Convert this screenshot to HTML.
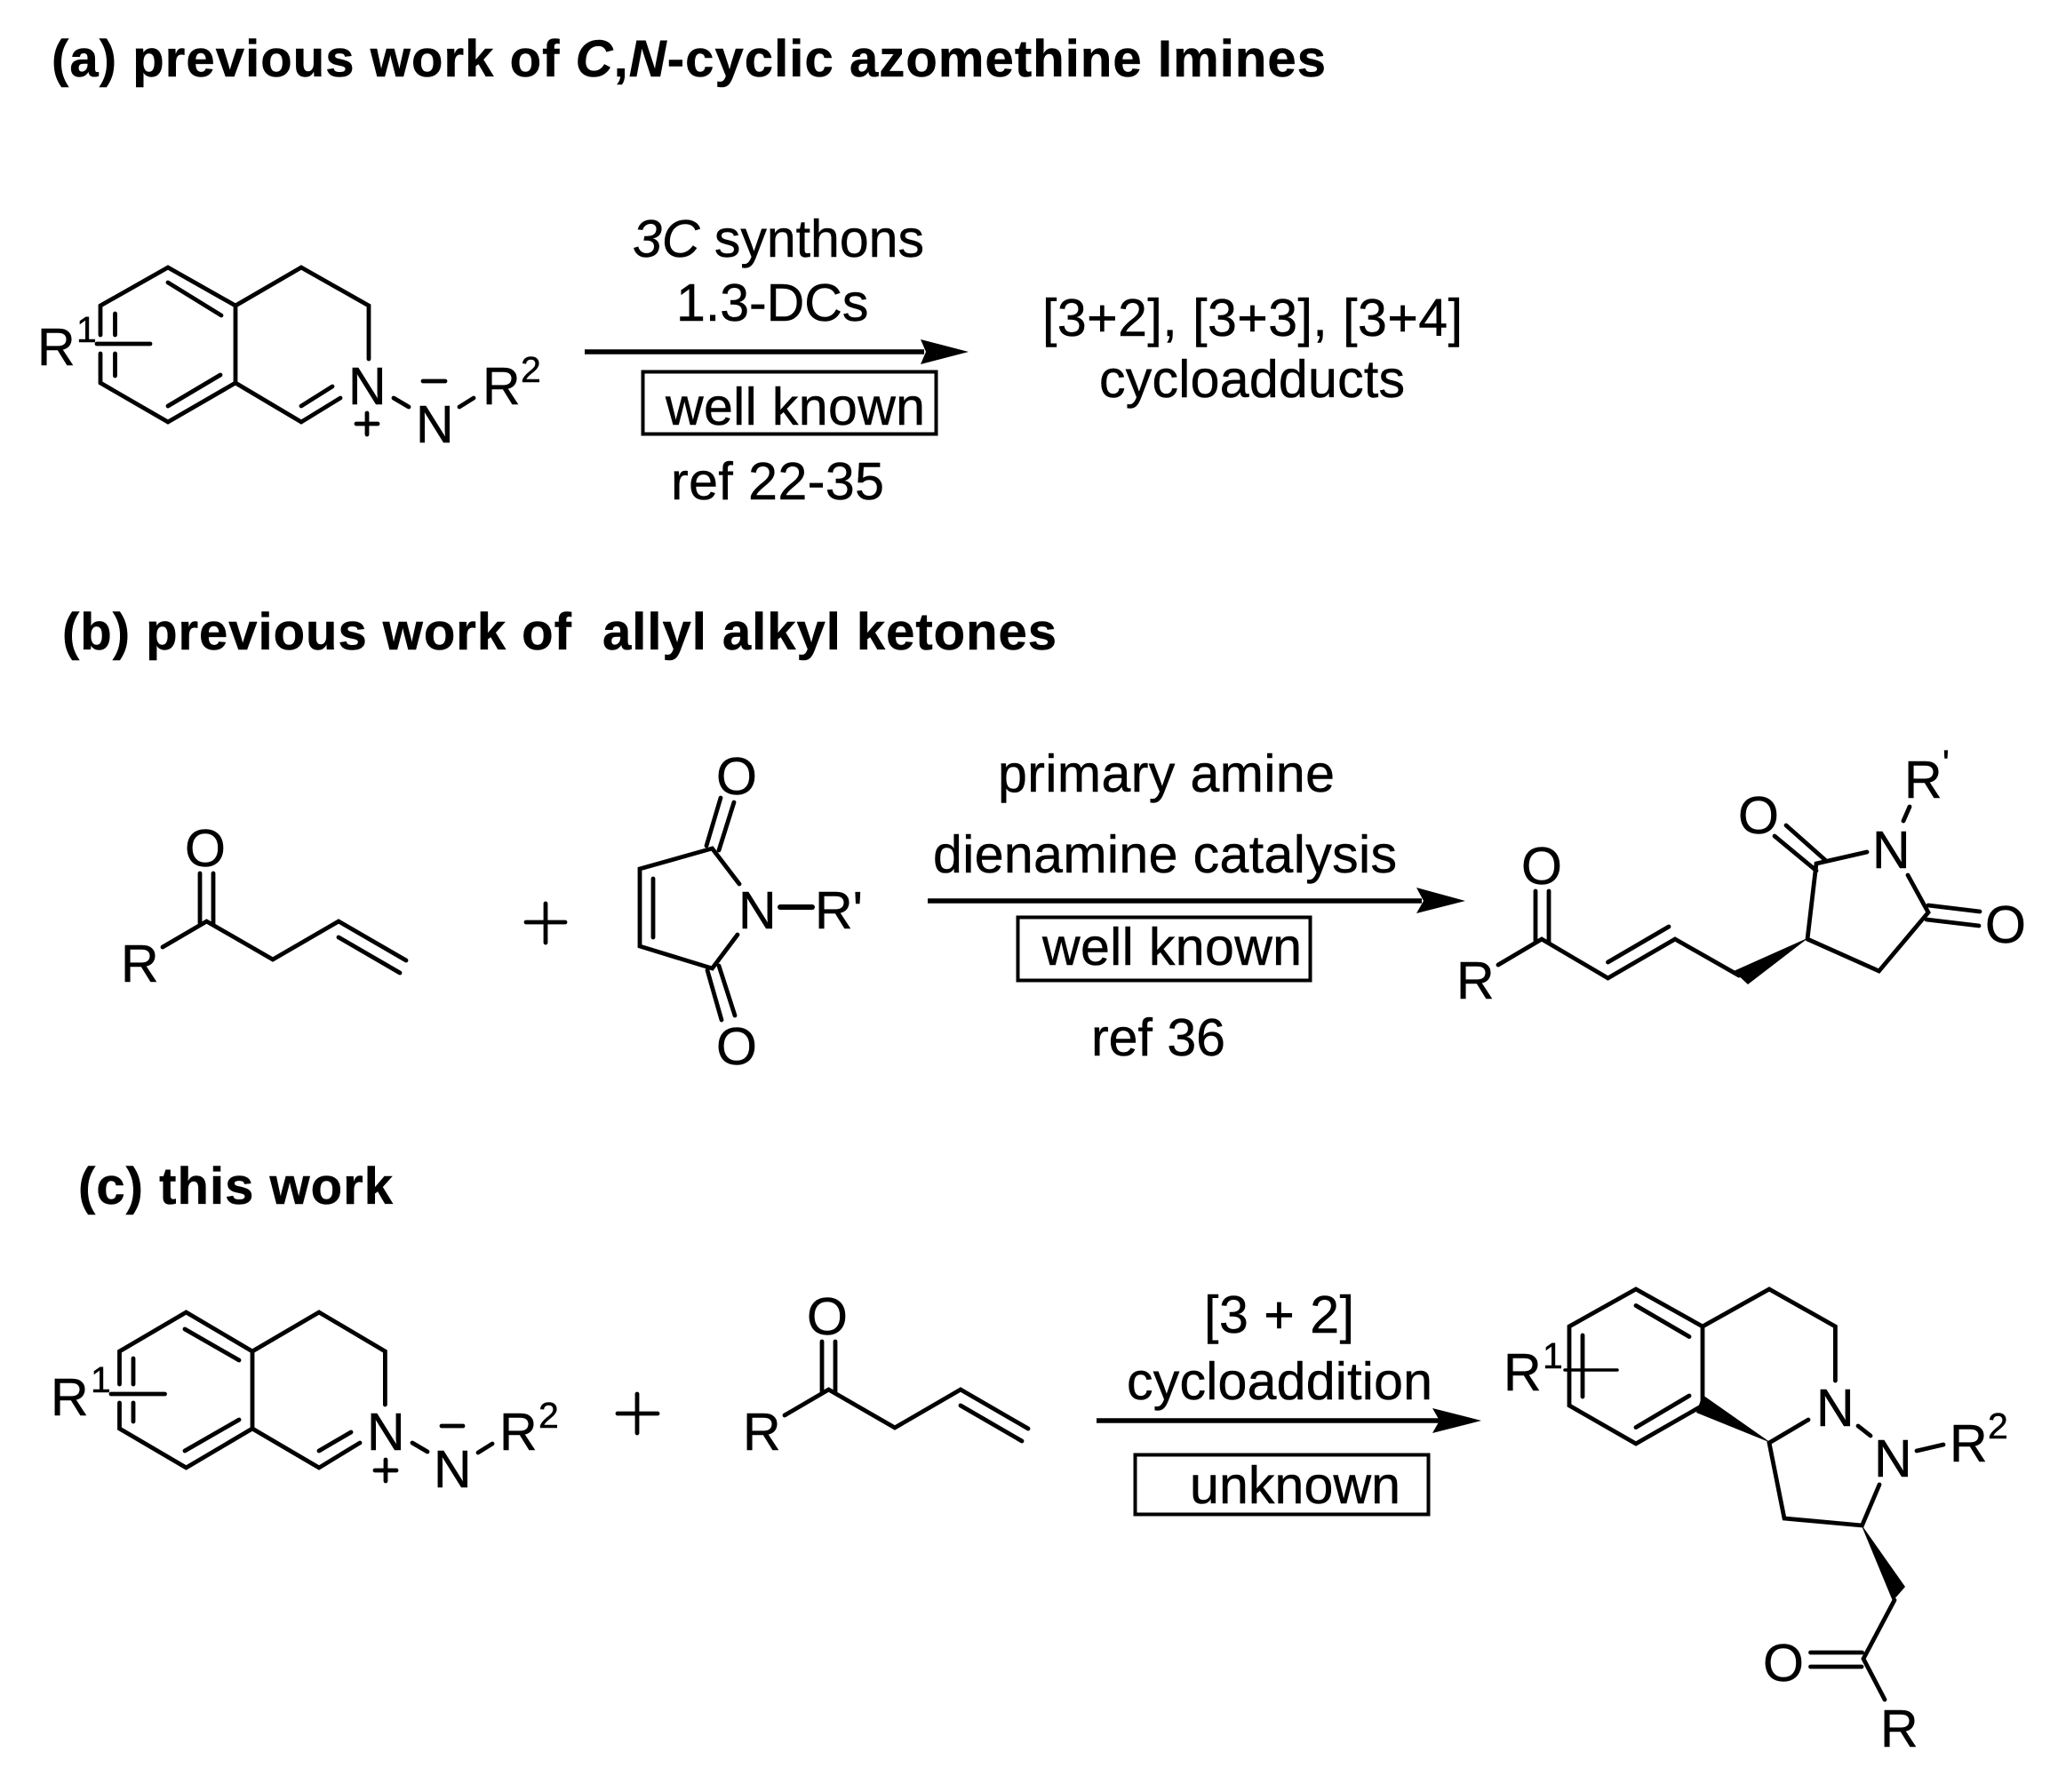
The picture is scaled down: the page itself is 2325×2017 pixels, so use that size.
<!DOCTYPE html>
<html><head><meta charset="utf-8"><style>
html,body{margin:0;padding:0;background:#fff}
svg{display:block}
text{font-family:"Liberation Sans",Arial,sans-serif;font-size:59px;fill:#000;stroke:#000;stroke-width:0.5}
.h{font-weight:bold;font-size:58px}
.s{font-size:41px}
.l{stroke:#000;stroke-width:4.8;fill:none;stroke-linecap:round;stroke-linejoin:miter}
</style></head><body>
<svg width="2325" height="2017" viewBox="0 0 2325 2017" xmlns="http://www.w3.org/2000/svg">
<rect width="2325" height="2017" fill="#fff"/>

<!-- Section a -->
<text class="h" x="58" y="86" textLength="1434">(a) previous work of <tspan font-style="italic">C</tspan>,<tspan font-style="italic">N</tspan>-cyclic azomethine Imines</text>
<g class="l">
<path d="M113 377V344L189 301L265 344V431L189 475L113 431V398"/>
<path d="M189 318L249 355M189 457L248 422M129.5 353V377M129.5 398V423"/>
<path d="M265 344L339 301L415 344V404M265 431L339 475L383 448M339 457L374 435"/>
<path d="M109 387H169"/>
<path d="M443 448L460 458M517 458L533 448"/>
<path d="M401 477H425M413 465V489M476 429H501"/>
</g>
<text x="42" y="411">R</text><text class="s" x="86" y="385">1</text>
<text x="392" y="455">N</text><text x="468" y="498">N</text>
<text x="543" y="455">R</text><text class="s" x="586" y="430">2</text>
<path d="M658 396H1040" stroke="#000" stroke-width="5.5"/>
<path d="M1090 396L1036 382L1042 396L1036 410Z"/>
<text x="712" y="289"><tspan font-style="italic">3C</tspan> synthons</text>
<text x="761" y="361">1.3-DCs</text>
<text x="1173" y="378" textLength="473">[3+2], [3+3], [3+4]</text>
<text x="1237" y="447" textLength="344">cycloadducts</text>
<rect x="723.5" y="418.5" width="330" height="70" fill="none" stroke="#000" stroke-width="4"/>
<text x="749" y="478" textLength="292">well known</text>
<text x="755" y="562" textLength="240">ref 22-35</text>

<!-- Section b -->
<text class="h" x="70" y="731" textLength="1119">(b) previous work of &#160;allyl alkyl ketones</text>
<g class="l">
<path d="M225 983V1039M240 983V1041"/>
<path d="M183 1066L232.5 1037L307 1080L381 1037L457 1081M381 1055L450 1095"/>
<path d="M592 1038H636M614 1017V1061"/>
<path d="M832 995L801.5 955L720 978V1065L801.5 1090L830 1052M735 989V1055"/>
<path d="M795 952L811 898M809 957L826 903M796 1092L812 1148M809 1087L827 1143"/>
<path d="M878 1021H914" stroke-width="6"/>
</g>
<text x="208" y="975">O</text>
<text x="136" y="1105">R</text>
<text x="806" y="894">O</text>
<text x="806" y="1198">O</text>
<text x="831" y="1045">N</text>
<text x="917" y="1045">R'</text>
<path d="M1044 1014H1600" stroke="#000" stroke-width="5.5"/>
<path d="M1649 1014L1594 999L1602 1014L1594 1028Z"/>
<text x="1123" y="891" textLength="379">primary amine</text>
<text x="1050" y="982" textLength="522">dienamine catalysis</text>
<rect x="1145.5" y="1032.5" width="329" height="71" fill="none" stroke="#000" stroke-width="4"/>
<text x="1173" y="1086" textLength="292">well known</text>
<text x="1228" y="1188" textLength="151">ref 36</text>
<g class="l">
<path d="M1728 1003V1059M1743 1003V1061"/>
<path d="M1686 1086L1735 1057L1809.5 1101L1885 1057L1957 1098M1809.5 1083L1878 1043"/>
<path d="M2034 1057L2044 972L2101 959M2034 1057L2114.5 1093L2170 1027L2147 985M2149 908L2142 924"/>
<path d="M1997 941L2044 980M2010 929L2054 968M2170 1019L2228 1026M2168 1035L2227 1042"/>
</g>
<path d="M2036 1055L1951 1093L1967 1108Z"/>
<text x="1712" y="995">O</text>
<text x="1639" y="1124">R</text>
<text x="1956" y="938">O</text>
<text x="2234" y="1061">O</text>
<text x="2107" y="977">N</text>
<text x="2143" y="898">R</text>
<text class="s" x="2186" y="873">'</text>

<!-- Section c -->
<text class="h" x="88" y="1355" textLength="354">(c) this work</text>
<g class="l">
<path d="M134.5 1558V1521L209.5 1477L284 1521V1608L209.5 1652L134.5 1608V1579"/>
<path d="M208 1496L269 1531M208 1633L269 1598M150 1529V1558M150 1579V1600"/>
<path d="M284 1521L359 1477L433.4 1521V1581M284 1608L359 1652L405 1624M359 1633L395 1612"/>
<path d="M125 1569H185.5"/>
<path d="M464 1624L481 1634M538 1635L554 1625"/>
<path d="M422 1655H446M434 1643V1667M497 1605H521"/>
<path d="M695 1591H740M717 1569V1613"/>
</g>
<text x="57" y="1593">R</text><text class="s" x="102" y="1567">1</text>
<text x="413" y="1632">N</text><text x="488" y="1674">N</text>
<text x="562" y="1632">R</text><text class="s" x="606" y="1607">2</text>
<g transform="translate(700 527)">
<g class="l">
<path d="M225 983V1039M240 983V1041"/>
<path d="M183 1066L232.5 1037L307 1080L381 1037L457 1081M381 1055L450 1095"/>
</g>
<text x="208" y="975">O</text>
<text x="136" y="1105">R</text>
</g>
<path d="M1234 1599H1620" stroke="#000" stroke-width="5.5"/>
<path d="M1667 1599L1612 1585L1620 1599L1612 1613Z"/>
<text x="1355" y="1500" textLength="169">[3 + 2]</text>
<text x="1268" y="1575" textLength="344">cycloaddition</text>
<rect x="1277.5" y="1637.5" width="330" height="67" fill="none" stroke="#000" stroke-width="4"/>
<text x="1339" y="1692" textLength="237">unknown</text>
<g class="l">
<path d="M1766 1493L1841 1451L1916 1493V1582L1841 1625L1766 1582Z"/>
<path d="M1841 1469.5L1901 1504.5M1841 1606.6L1901 1571M1781 1503V1572"/>
<path d="M1916 1493L1991 1451L2065.4 1493V1554"/>
<path d="M2035 1598L1991 1624L2008 1709L2095.5 1717L2115 1671"/>
<path d="M2091 1605L2105 1616M2157 1633L2187 1626"/>
<path d="M2132 1801L2097 1867L2121 1913M2095.5 1860H2037.5M2095 1876H2037.5"/>
<path d="M1761 1542H1820" stroke-width="3.5"/>
</g>
<path d="M1993 1624L1916 1570L1909 1590Z"/>
<path d="M2094 1715L2144 1786L2130 1802Z"/>
<text x="1692" y="1565">R</text><text class="s" x="1736" y="1540">1</text>
<text x="2044" y="1605">N</text><text x="2109" y="1662">N</text>
<text x="2194" y="1645">R</text><text class="s" x="2237" y="1619">2</text>
<text x="1984" y="1892">O</text>
<text x="2116" y="1966">R</text>
</svg>
</body></html>
